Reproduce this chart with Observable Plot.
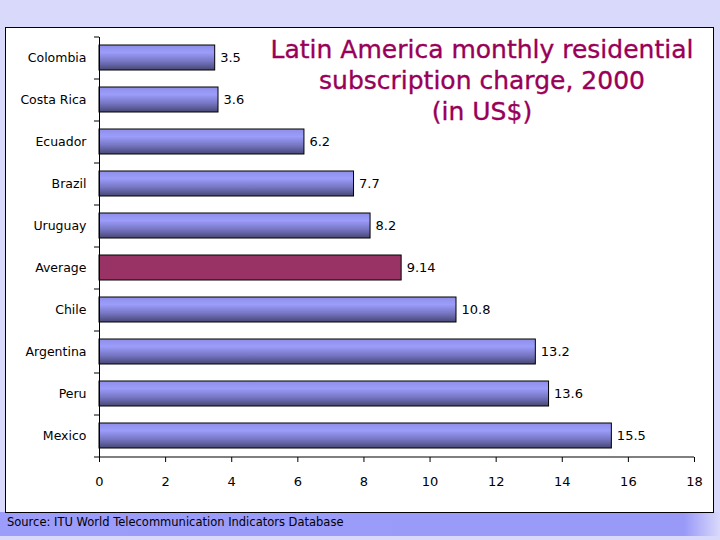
<!DOCTYPE html>
<html><head><meta charset="utf-8">
<script src="https://cdn.jsdelivr.net/npm/d3@7"></script>
<script src="https://cdn.jsdelivr.net/npm/@observablehq/plot@0.6"></script>
<style>
html,body{margin:0;padding:0;}
body{width:720px;height:540px;position:relative;overflow:hidden;background:#d9d9fb;font-family:"DejaVu Sans",sans-serif;}
#band{position:absolute;left:0;top:512px;width:720px;height:24px;background:linear-gradient(to right,#9c9cfa 0%,#9999f8 95%,#d9d9fb 100%);}
#box{position:absolute;left:5px;top:27px;width:707px;height:484px;background:#fff;border:1px solid #000;}
#title{position:absolute;left:232px;top:34px;width:500px;text-align:center;color:#990058;font-family:"DejaVu Sans",sans-serif;font-size:25px;line-height:31px;-webkit-text-stroke:0.35px #990058;}
#source{position:absolute;left:7px;top:515px;font-family:"DejaVu Sans",sans-serif;font-size:11.5px;color:#000;}
</style></head>
<body>
<div id="band"></div>
<div id="box"></div>
<div id="title">Latin America monthly residential<br>subscription charge, 2000<br>(in US$)</div>
<div id="source">Source: ITU World Telecommunication Indicators Database</div>
<script>
const countries = ["Colombia","Costa Rica","Ecuador","Brazil","Uruguay","Average","Chile","Argentina","Peru","Mexico"];
const charges = [3.5,3.6,6.2,7.7,8.2,9.14,10.8,13.2,13.6,15.5];
const valueLabels = ["3.5","3.6","6.2","7.7","8.2","9.14","10.8","13.2","13.6","15.5"];
const xTicks = [0,2,4,6,8,10,12,14,16,18];

const data = countries.map((c,i)=>({country:c, value:charges[i], label:valueLabels[i], avg:c==="Average"}));

const chart = Plot.plot({
  width: 707, height: 484,
  marginLeft: 93, marginRight: 19, marginTop: 9, marginBottom: 55,
  style: {background: "transparent", fontFamily: "DejaVu Sans, sans-serif", fontSize: "12px", color: "#000"},
  x: {domain: [0,18], ticks: xTicks, label: null},
  y: {domain: countries, paddingInner: 0.4, paddingOuter: 0.2, label: null},
  marks: [
    Plot.barX(data, {y: "country", x: "value", fill: d => d.avg ? "#993366" : "url(#barGrad)", stroke: "#000", strokeWidth: 1}),
    Plot.text(data, {y: "country", x: "value", text: "label", textAnchor: "start", dx: 5, fontSize: 13}),
    Plot.ruleX([0], {stroke: "#000"}),
    Plot.ruleY(["Mexico"], {x1: 0, x2: 18, dy: 21, stroke: "#000"}),
    Plot.axisX({ticks: xTicks, tickSize: 5, tickPadding: 14, fontSize: 13, label: null}),
    Plot.axisY({tickSize: 0, tickPadding: 13, fontSize: 12.5, label: null}),
    Plot.axisY({tickSize: 5, text: null, dy: -21, label: null}),
    Plot.axisY(["Mexico"], {tickSize: 5, text: null, dy: 21, label: null})
  ]
});
const svgNS = "http://www.w3.org/2000/svg";
const defs = document.createElementNS(svgNS, "defs");
defs.innerHTML = `<linearGradient id="barGrad" x1="0" y1="0" x2="0" y2="1">
  <stop offset="0" stop-color="#8e8eea"/>
  <stop offset="0.3" stop-color="#9c9cfa"/>
  <stop offset="0.65" stop-color="#7676c4"/>
  <stop offset="1" stop-color="#474775"/>
</linearGradient>`;
chart.insertBefore(defs, chart.firstChild);
chart.style.position = "absolute";
chart.style.left = "6px";
chart.style.top = "28px";
document.body.insertBefore(chart, document.getElementById("title"));
</script>
</body></html>
